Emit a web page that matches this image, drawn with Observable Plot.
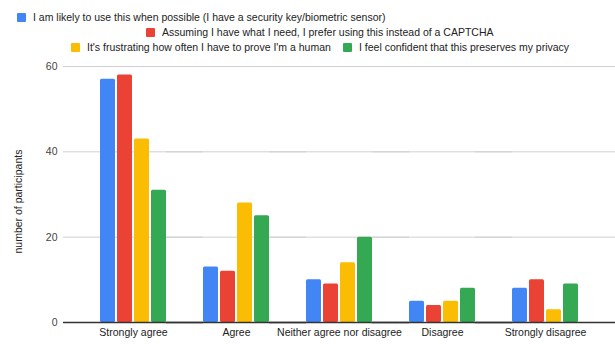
<!DOCTYPE html>
<html>
<head>
<meta charset="utf-8">
<script src="https://cdn.jsdelivr.net/npm/d3@7"></script>
<script src="https://cdn.jsdelivr.net/npm/@observablehq/plot@0.6"></script>
<style>
  html, body { margin: 0; padding: 0; background: #fff; }
  #wrap { width: 615px; font-family: Arial, "Liberation Sans", sans-serif; }
  #legend { position: relative; height: 58px; font-size: 10.5px; color: #222; }
  .item { position: absolute; display: flex; align-items: center; white-space: nowrap; height: 15px; }
  .sw { width: 9px; height: 9px; border-radius: 1px; margin-right: 7px; }
</style>
</head>
<body>
<div id="wrap">
  <div id="legend"></div>
  <div id="chart"></div>
</div>
<script>
const categories = ["Strongly agree", "Agree", "Neither agree nor disagree", "Disagree", "Strongly disagree"];
const series = [
  "I am likely to use this when possible (I have a security key/biometric sensor)",
  "Assuming I have what I need, I prefer using this instead of a CAPTCHA",
  "It's frustrating how often I have to prove I'm a human",
  "I feel confident that this preserves my privacy"
];
const likelyValues     = [57, 13, 10, 5, 8];
const preferValues     = [58, 12, 9, 4, 10];
const frustratedValues = [43, 28, 14, 5, 3];
const privacyValues    = [31, 25, 20, 8, 9];
const colors = ["#4285F4", "#EA4335", "#FBBC04", "#34A853"];
const yTicks = [0, 20, 40, 60];
const yLabel = "number of participants";

const seriesValues = [likelyValues, preferValues, frustratedValues, privacyValues];
const data = [];
series.forEach((s, i) => categories.forEach((c, j) => data.push({cat: c, series: s, value: seriesValues[i][j]})));

// legend layout (left x, row center y)
const legendPos = [[17, 17], [146, 32], [71, 47], [343, 47]];
const legend = document.getElementById("legend");
series.forEach((s, i) => {
  const it = document.createElement("div");
  it.className = "item";
  it.style.left = legendPos[i][0] + "px";
  it.style.top = (legendPos[i][1] - 7.5) + "px";
  const sw = document.createElement("div");
  sw.className = "sw";
  sw.style.background = colors[i];
  const tx = document.createElement("span");
  tx.textContent = s;
  it.appendChild(sw); it.appendChild(tx);
  legend.appendChild(it);
});

const ext = -37; // extend rules across facet gaps
const chart = Plot.plot({
  width: 615,
  height: 286,
  marginTop: 8,
  marginBottom: 22,
  marginLeft: 62,
  marginRight: 0,
  style: {fontFamily: "Arial, 'Liberation Sans', sans-serif", fontSize: "10.5px", color: "#222", background: "#fff"},
  fx: {domain: categories, paddingInner: 0.362, paddingOuter: 0.357, axis: "bottom", tickSize: 0, tickPadding: 6, label: null},
  x: {domain: series, paddingInner: 0.118, paddingOuter: 0, axis: null},
  y: {domain: [0, 60], axis: null},
  color: {domain: series, range: colors},
  marks: [
    Plot.ruleY(yTicks.filter(d => d !== 0), {stroke: "#d0d0d0", strokeWidth: 1, insetLeft: ext, insetRight: ext}),
    Plot.text(yTicks, {fx: () => categories[0], y: d => d, frameAnchor: "left", dx: ext - 6, textAnchor: "end", fill: "#444"}),
    Plot.text([yLabel], {fx: () => categories[0], text: d => d, frameAnchor: "left", rotate: -90, dx: ext - 45, dy: 59, fill: "#222"}),
    Plot.barY(data, {fx: "cat", x: "series", y: "value", fill: "series", rx: 1.5}),
    Plot.ruleY([0], {stroke: "#333", strokeWidth: 1.3, insetLeft: ext, insetRight: ext})
  ]
});
document.getElementById("chart").appendChild(chart);
</script>
</body>
</html>
